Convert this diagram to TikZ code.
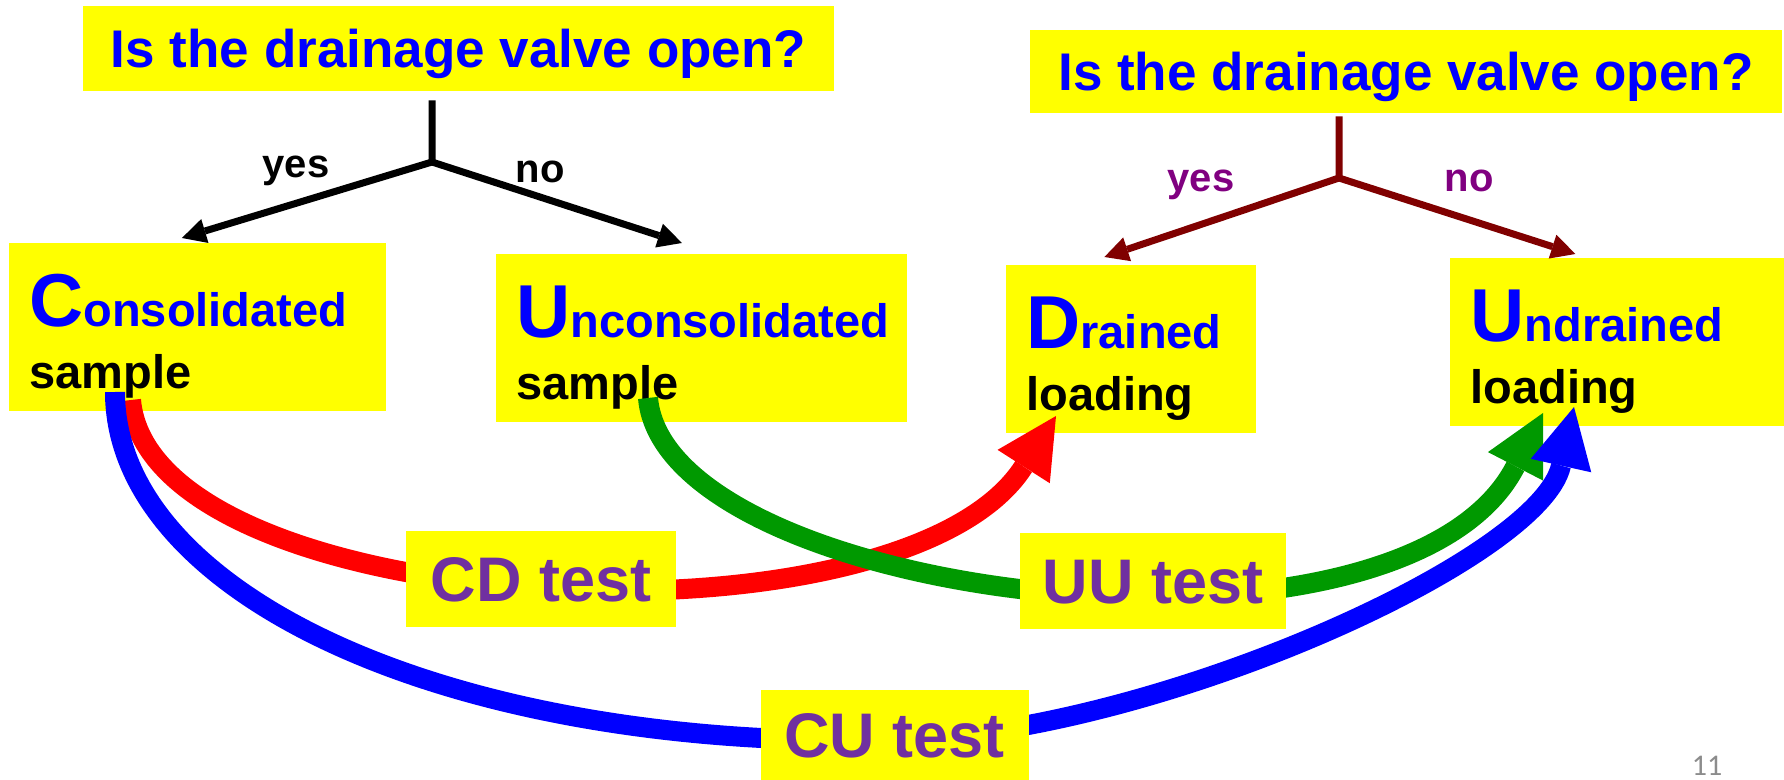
\documentclass[tikz,border=0pt]{standalone}
\usepackage{fontspec}
\setmainfont{Liberation Sans}
\newfontfamily\pagefont{Carlito}
\usepackage{tikz}
\usetikzlibrary{arrows.meta}
\hyphenpenalty=10000
\definecolor{boxyellow}{HTML}{FFFF00}
\definecolor{testpurple}{HTML}{7030A0}
\definecolor{ynpurple}{HTML}{800080}
\definecolor{treered}{HTML}{800000}
\definecolor{uugreen}{HTML}{009900}
\definecolor{pagegray}{HTML}{8C8C8C}
\newcommand{\firstbig}[3]{\rule{0pt}{35pt}{\fontsize{37.5}{37.5}\selectfont #1}#2\\\textcolor{black}{#3}\rule[-5pt]{0pt}{5pt}}
\tikzset{
qbox/.style={fill=boxyellow, text=blue, inner sep=0pt, text height=19.5pt, text depth=0pt, font=\fontsize{26.5}{30}\selectfont\bfseries}, % question boxes
sbox/.style={fill=boxyellow, text=blue, anchor=north west, align=left, inner xsep=10pt, inner ysep=0pt, minimum height=84pt, font=\fontsize{23.5}{31}\selectfont\bfseries}, % sample and loading boxes
tbox/.style={fill=boxyellow, text=testpurple, inner sep=0pt, minimum width=134pt, minimum height=48pt, text height=22.5pt, text depth=0pt, font=\fontsize{31.5}{36}\selectfont\bfseries}, % test names
yesno/.style={anchor=base, font=\fontsize{20}{24}\selectfont\bfseries}, % branch labels
branch/.style={line width=3.5pt, -{Triangle[length=12pt, width=12.5pt, line width=0pt]}}, % yes / no arrows
testline/.style={line width=10pt, -{Triangle[length=30pt, width=31pt, line width=0pt]}}, % test arrows
}
\begin{document}
\begin{tikzpicture}[x=0.5pt, y=-0.5pt]
        \useasboundingbox (0,0) rectangle (1784,780);
        \node[qbox, minimum width=375.5pt, minimum height=42.5pt] at (458.5,48.5) (q1) {Is the drainage valve open?};
        \node[qbox, minimum width=376pt, minimum height=41.5pt] at (1406,71.5) (q2) {Is the drainage valve open?};
        \node[sbox, text width=168.5pt] at (9,243) (cons) {\firstbig{C}{onsolidated}{sample}};
        \node[sbox, text width=185.5pt] at (496,254) (uncons) {\firstbig{U}{nconsolidated}{sample}};
        \node[sbox, text width=105pt] at (1006,265) (drain) {\firstbig{D}{rained}{loading}};
        \node[sbox, text width=147pt] at (1450,258) (undrain) {\firstbig{U}{ndrained}{loading}};
        \coordinate (j1) at (432,162);
        \coordinate (j2) at (1339,178);
        \draw[branch] (j1 |- q1.south) ++(0,9) -- (j1) -- ([shift={(-16,-5)}]cons.north);
        \draw[branch] (j1) -- ([shift={(-20,-11)}]uncons.north);
        \draw[branch, treered] (j2 |- q2.south) ++(0,3) -- (j2) -- ([shift={(-27,-8)}]drain.north);
        \draw[branch, treered] (j2) -- ([shift={(-42,-4)}]undrain.north);
        \node[yesno] at (296,178) (y1) {yes};
        \node[yesno] at (540,183) (n1) {no};
        \node[yesno, text=ynpurple] at (1201,192) (y2) {yes};
        \node[yesno, text=ynpurple] at (1469,192) (n2) {no};
        \coordinate (cd-a) at (131,400);
        \coordinate (cd-b) at (1056,416);
        \coordinate (uu-a) at (648,398);
        \coordinate (uu-b) at (1543,413);
        \coordinate (cu-a) at (115,392);
        \coordinate (cu-b) at (1574,407);
        \draw[testline, red]
        (cd-a) .. controls (150,620) and (900,660) .. (cd-b)
        ;
        \draw[testline, uugreen]
        (uu-a) .. controls (665,600) and (1400,690) .. (uu-b)
        ;
        \draw[testline, blue]
        (cu-a) .. controls (115,592) and (444,750) .. (894,740) .. controls (1150,735) and (1540,560) .. (cu-b)
        ;
        \node[tbox, minimum width=135pt] at (541,579) (cd) {CD test};
        \node[tbox, minimum width=133pt] at (1153,581) (uu) {UU test};
        \node[tbox, minimum height=45pt] at (894.5,735) (cu) {CU test};
        \node[anchor=base, text=pagegray, font=\pagefont\fontsize{15}{17}\selectfont] at (1707,775) (pg) {11};
    \end{tikzpicture}
\end{document}
